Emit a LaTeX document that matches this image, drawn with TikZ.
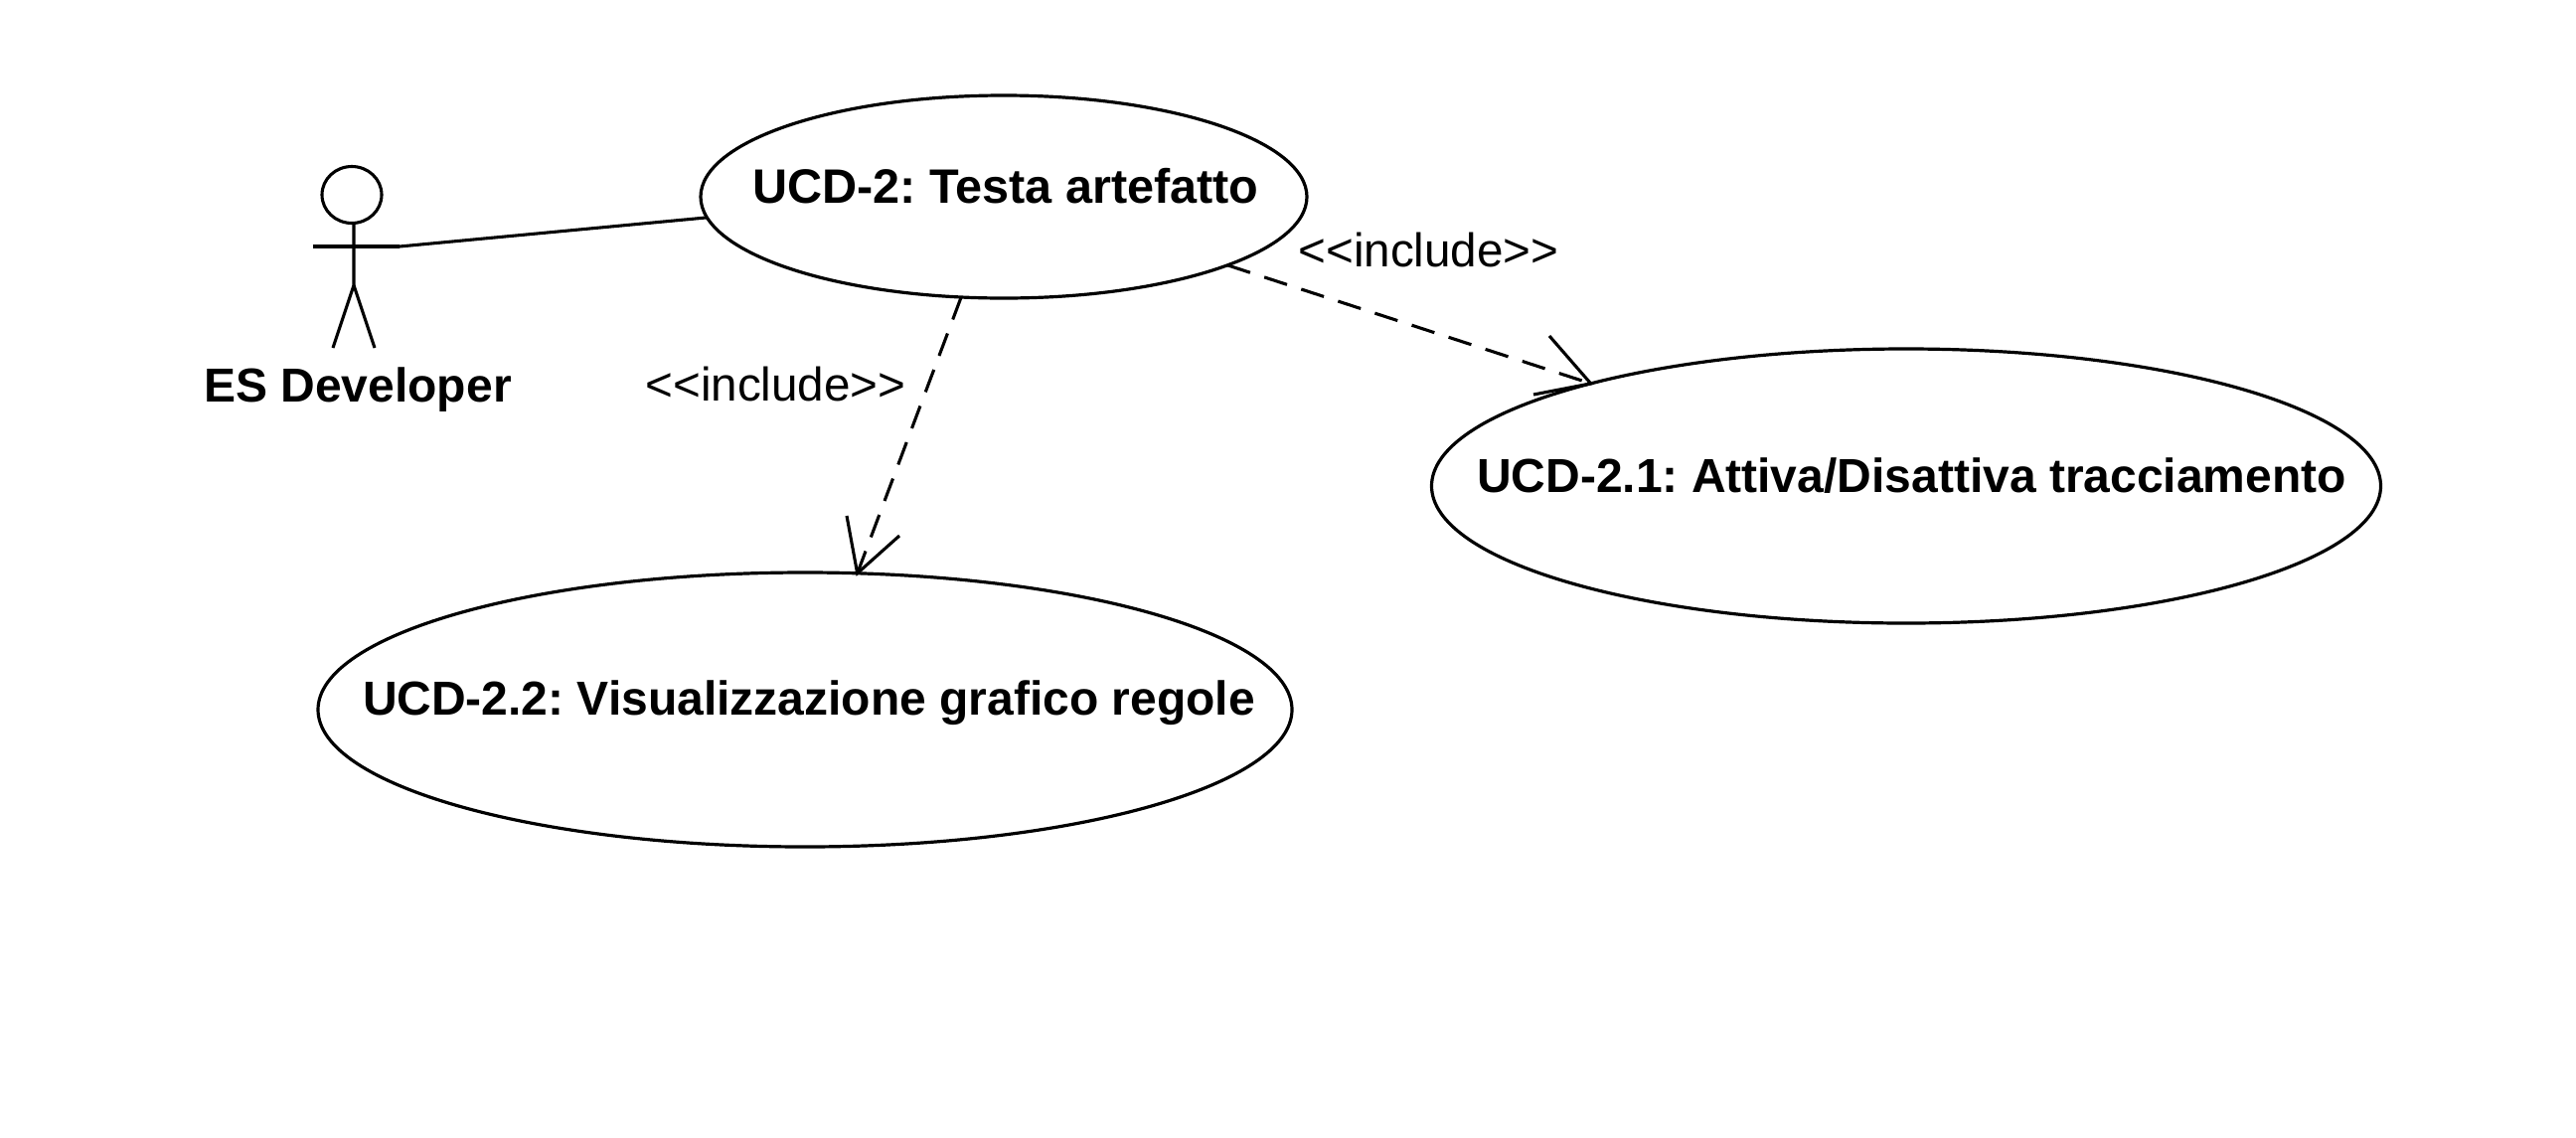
\documentclass[tikz,border=0pt]{standalone}
\usepackage{fontspec}
\setmainfont{Liberation Sans}
\frenchspacing
\usetikzlibrary{shapes.geometric}
\tikzset{
  x=1pt,y=-1pt,
  ln/.style={line width=3.1pt,black},
  usecase/.style={ellipse,draw,line width=3.2pt,inner sep=0pt,outer sep=0pt},
  boldtext/.style={font=\fontsize{48}{50}\selectfont\bfseries,inner sep=0pt,anchor=base},
  stereotext/.style={font=\fontsize{47.6}{50}\selectfont,inner sep=0pt,anchor=base},
  dep/.style={ln,dash pattern=on 24pt off 15pt},
  barb/.style={ln,line join=miter},
}
\begin{document}
\begin{tikzpicture}
\useasboundingbox (0,0) rectangle (2592,1144);
% use cases
\node[usecase,minimum width=610pt,minimum height=204pt] (u2) at (1010,198) {};
\node[usecase,minimum width=955pt,minimum height=276pt] (u21) at (1918,489) {};
\node[usecase,minimum width=980pt,minimum height=276pt] (u22) at (810,714) {};
\node[boldtext,font=\fontsize{48.6}{50}\selectfont\bfseries] (t2) at (1012,204) {UCD-2: Testa artefatto};
\node[boldtext] (t21) at (1923.5,495) {UCD-2.1: Attiva/Disattiva tracciamento};
\node[boldtext] (t22) at (814,719) {UCD-2.2: Visualizzazione grafico regole};
% actor
\node[ellipse,draw,line width=3.1pt,inner sep=0pt,outer sep=0pt,minimum width=60pt,minimum height=57pt] (head) at (354,196) {};
\coordinate (neck) at (356,224);
\coordinate (hip) at (356,287);
\coordinate (armL) at (314.5,248);
\coordinate (armR) at (402,248);
\coordinate (footL) at (335,350);
\coordinate (footR) at (377,350);
\draw[ln] (neck) -- (hip) -- (footL);
\draw[ln] (hip) -- (footR);
\draw[ln] (armL) -- (armR);
\node[boldtext] (actor) at (360,404) {ES Developer};
% association
\draw[ln] (armR) -- (u2.184.2);
% includes
\draw[dep] (u2.247.1) -- (u22.69);
\coordinate (b1) at (852,519);
\coordinate (b2) at (905,539);
\draw[barb] (b1) -- (u22.69) -- (b2);
\draw[dep] (u2.-17) -- (u21.162.8);
\coordinate (b3) at (1559,338);
\coordinate (b4) at (1543,397);
\draw[barb] (b3) -- (u21.162.8) -- (b4);
\node[stereotext] (i1) at (780.5,403) {<{}<include>{}>};
\node[stereotext] (i2) at (1437.5,268) {<{}<include>{}>};
\end{tikzpicture}
\end{document}
